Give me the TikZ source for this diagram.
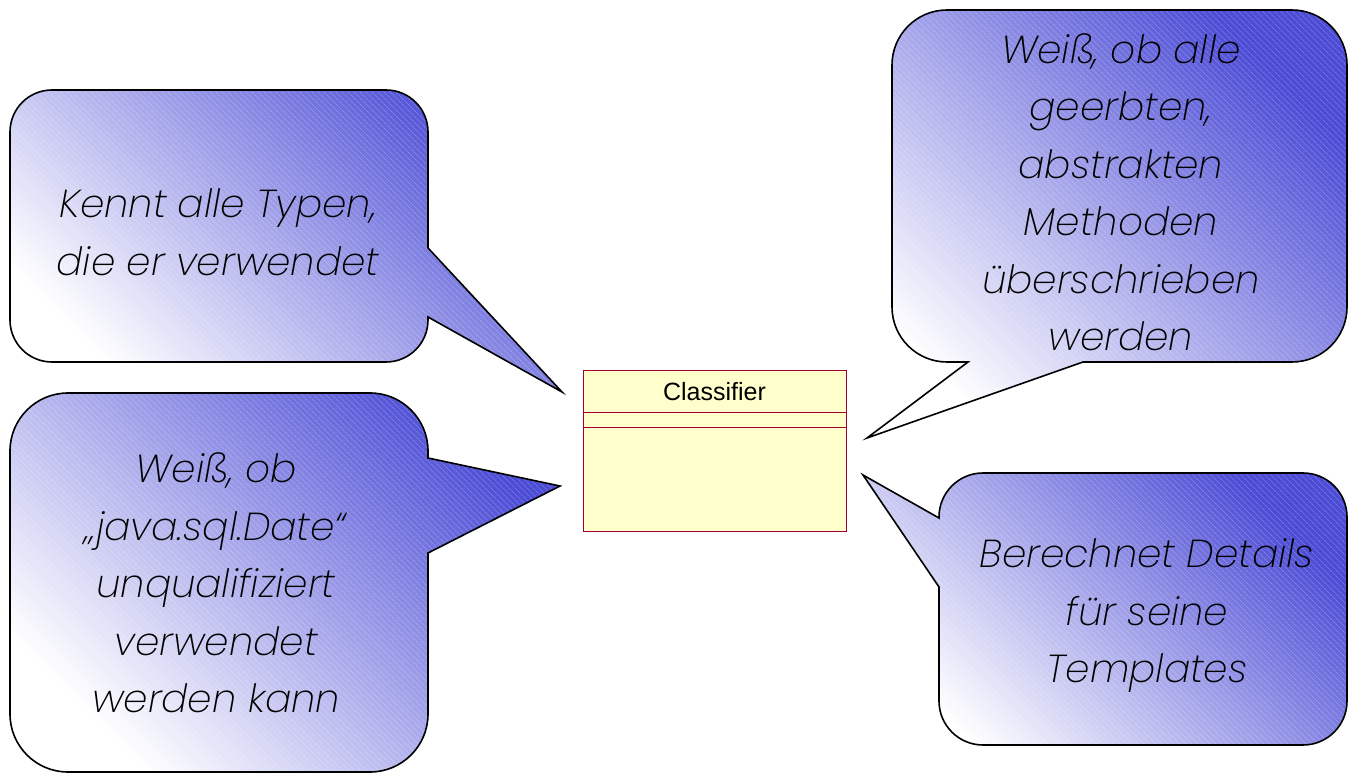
\documentclass[tikz,border=0pt]{standalone}
\usepackage{fontspec}
\setmainfont{Liberation Sans}
\newfontfamily\bubblefont{Poppins ExtraLight Italic}
\usetikzlibrary{patterns.meta,calc}
\definecolor{bubbleblue}{RGB}{76,76,214}
\definecolor{classfill}{RGB}{255,255,204}
\definecolor{classline}{RGB}{160,0,48}
\tikzset{
  bubble/.style={shade, shading=axis, bottom color=white, top color=bubbleblue,
    shading angle=-45,
    postaction={pattern={Lines[angle=-45,distance=4pt,line width=0.7pt]},
      pattern color=white, fill opacity=0.22},
    postaction={draw=black, line width=1.6pt, line join=miter}},
  bubbletext/.style={font=\bubblefont\fontsize{39}{57.5}\selectfont,
    align=center, text=black, inner sep=0pt},
  classbox/.style={draw=classline, fill=classfill, line width=0.9pt,
    minimum width=263pt, minimum height=161pt, inner sep=0pt, anchor=north west},
  compartment/.style={draw=classline, line width=0.9pt},
}
\begin{document}
\begin{tikzpicture}[x=1pt,y=-1pt]
\useasboundingbox (0,0) rectangle (1349,775);

% class symbol in the middle
\node[classbox] (cls) at (583,370) {};
\node[font=\fontsize{25}{30}\selectfont, inner sep=0pt] (clsname) at (714.5,392) {Classifier};
\draw[compartment] (cls.north west) ++(0,42) coordinate (d1a) -- (d1a -| cls.east);
\draw[compartment] (cls.north west) ++(0,57) coordinate (d2a) -- (d2a -| cls.east);

% tips of the speech bubbles
\coordinate (tipA) at (562,392);
\coordinate (tipB) at (867,438);
\coordinate (tipC) at (560,486);
\coordinate (tipD) at (863,475);

% upper left bubble
\path[bubble] (10,320) -- (10,132) arc[start angle=180,end angle=270,radius=42]
  -- (386,90) arc[start angle=270,end angle=360,radius=42]
  -- (428,248) -- (tipA) -- (428,317) -- (428,320)
  arc[start angle=0,end angle=90,radius=42]
  -- (52,362) arc[start angle=90,end angle=180,radius=42] -- cycle;

% upper right bubble
\path[bubble] (892,307) -- (892,65) arc[start angle=180,end angle=270,radius=55]
  -- (1292,10) arc[start angle=270,end angle=360,radius=55]
  -- (1347,307) arc[start angle=0,end angle=90,radius=55]
  -- (1083,362) -- (tipB) -- (968,362) -- (947,362)
  arc[start angle=90,end angle=180,radius=55] -- cycle;

% lower left bubble
\path[bubble] (10,714) -- (10,451) arc[start angle=180,end angle=270,radius=58]
  -- (370,393) arc[start angle=270,end angle=360,radius=58]
  -- (428,458) -- (tipC) -- (428,553) -- (428,714)
  arc[start angle=0,end angle=90,radius=58]
  -- (68,772) arc[start angle=90,end angle=180,radius=58] -- cycle;

% lower right bubble
\path[bubble] (939,701) -- (939,587) -- (tipD) -- (939,518) -- (939,517)
  arc[start angle=180,end angle=270,radius=44]
  -- (1303,473) arc[start angle=270,end angle=360,radius=44]
  -- (1347,701) arc[start angle=0,end angle=90,radius=44]
  -- (983,745) arc[start angle=90,end angle=180,radius=44] -- cycle;

% bubble texts
\node[bubbletext] (tA) at (218,232) {Kennt alle Typen,\\die er verwendet};
\node[bubbletext] (tB) at (1121,192) {Weiß, ob alle\\geerbten,\\abstrakten\\Methoden\\überschrieben\\werden};
\node[bubbletext] (tC) at (216,583) {Weiß, ob\\„java.sql.Date“\\unqualifiziert\\verwendet\\werden kann};
\node[bubbletext] (tD) at (1147,616) {Berechnet Details\\für seine\\Templates};
\end{tikzpicture}
\end{document}
